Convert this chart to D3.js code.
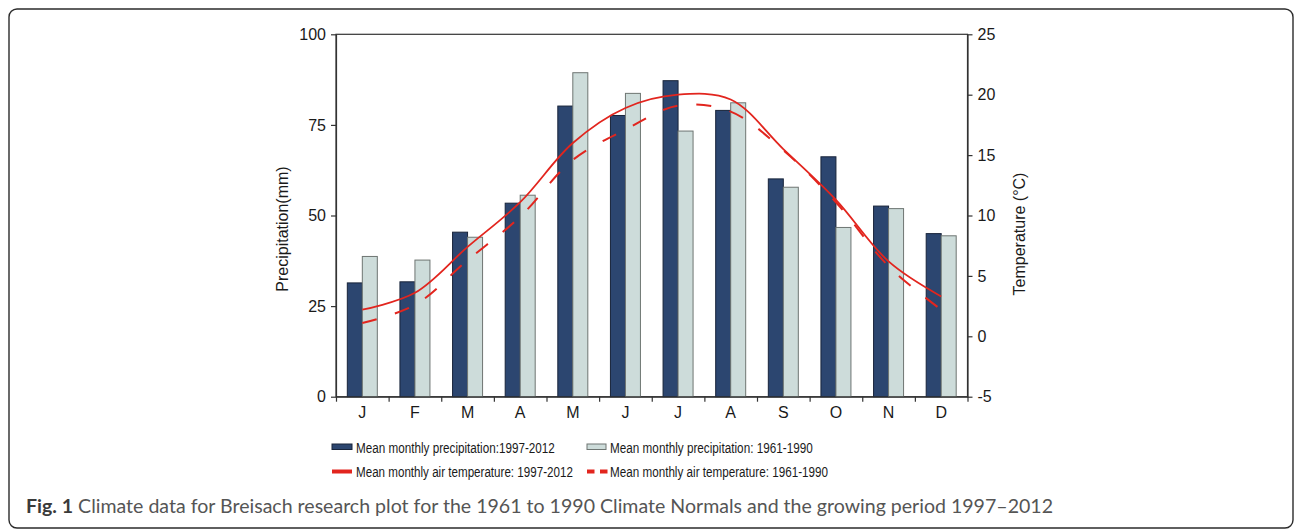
<!DOCTYPE html>
<html>
<head>
<meta charset="utf-8">
<script src="https://cdn.jsdelivr.net/npm/d3@7"></script>
<style>
  body { margin: 0; background: #fff; }
  svg { display: block; }
</style>
</head>
<body>
<svg id="chart" width="1295" height="530"></svg>
<script>
// months + values
const months = ["J", "F", "M", "A", "M", "J", "J", "A", "S", "O", "N", "D"];
const precip9712 = [31.4, 31.7, 45.4, 53.4, 80.2, 77.6, 87.2, 79.0, 60.1, 66.2, 52.6, 45.0];
const precip6190 = [38.7, 37.7, 44.0, 55.6, 89.4, 83.7, 73.3, 81.1, 57.8, 46.7, 51.9, 44.4];
const temp9712 = [2.2, 3.6, 7.4, 11.1, 16.0, 18.9, 20.0, 19.6, 15.5, 11.3, 6.2, 3.3];
const temp6190 = [1.1, 2.6, 6.3, 9.9, 14.6, 17.1, 19.1, 18.6, 15.4, 11.1, 5.8, 2.2];
const precipTicks = [0, 25, 50, 75, 100];
const tempTicks = [-5, 0, 5, 10, 15, 20, 25];

const svg = d3.select("#chart");
const m = { left: 336, right: 967.5, top: 34.3, bottom: 396.7 };

const x = d3.scaleBand()
  .domain(d3.range(12))
  .range([m.left, m.right]);
const xEdge = d3.scaleLinear().domain([0, 12]).range([m.left, m.right]);
const xSub = d3.scaleBand().domain(["a", "b"]).range([-15, 15]);
const yL = d3.scaleLinear().domain([0, 100]).range([m.bottom, m.top]);
const yR = d3.scaleLinear().domain([-5, 25]).range([m.bottom, m.top]);

// outer rounded frame
svg.append("rect")
  .attr("x", 9).attr("y", 9)
  .attr("width", 1284).attr("height", 519)
  .attr("rx", 8)
  .attr("fill", "none")
  .attr("stroke", "#2b2b2b")
  .attr("stroke-width", 1.4);

// plot box
svg.append("rect")
  .attr("x", m.left).attr("y", m.top)
  .attr("width", m.right - m.left).attr("height", m.bottom - m.top)
  .attr("fill", "none")
  .attr("stroke", "#333")
  .attr("stroke-width", 1.2);

// bars
const cx = i => x(i) + x.bandwidth() / 2;
svg.append("g").selectAll("rect")
  .data(precip9712)
  .join("rect")
  .attr("x", (d, i) => cx(i) + xSub("a"))
  .attr("width", xSub.bandwidth())
  .attr("y", d => yL(d))
  .attr("height", d => yL(0) - yL(d))
  .attr("fill", "#2c4670")
  .attr("stroke", "#18243a")
  .attr("stroke-width", 1);

svg.append("g").selectAll("rect")
  .data(precip6190)
  .join("rect")
  .attr("x", (d, i) => cx(i) + xSub("b"))
  .attr("width", xSub.bandwidth())
  .attr("y", d => yL(d))
  .attr("height", d => yL(0) - yL(d))
  .attr("fill", "#cddcda")
  .attr("stroke", "#6e7572")
  .attr("stroke-width", 1);

// temperature lines
const line = d3.line()
  .x((d, i) => cx(i))
  .y(d => yR(d))
  .curve(d3.curveCatmullRom.alpha(0.5));

svg.append("path")
  .datum(temp6190)
  .attr("d", line)
  .attr("fill", "none")
  .attr("stroke", "#e2251e")
  .attr("stroke-width", 2)
  .attr("stroke-dasharray", "15,19");

svg.append("path")
  .datum(temp9712)
  .attr("d", line)
  .attr("fill", "none")
  .attr("stroke", "#e2251e")
  .attr("stroke-width", 1.8);

// axes
const axisFont = "'Liberation Sans', Arial, sans-serif";

const gL = svg.append("g")
  .attr("transform", `translate(${m.left},0)`)
  .call(d3.axisLeft(yL).tickValues(precipTicks).tickSize(5).tickSizeOuter(0).tickPadding(5));
const gR = svg.append("g")
  .attr("transform", `translate(${m.right},0)`)
  .call(d3.axisRight(yR).tickValues(tempTicks).tickFormat(d => String(d))
    .tickSize(5).tickSizeOuter(0).tickPadding(5));
const gB = svg.append("g")
  .attr("transform", `translate(0,${m.bottom})`)
  .call(d3.axisBottom(xEdge).tickValues(d3.range(13)).tickFormat("").tickSize(5).tickSizeOuter(0));
const gBL = svg.append("g")
  .attr("transform", `translate(0,${m.bottom})`)
  .call(d3.axisBottom(x).tickFormat(i => months[i]).tickSize(0).tickPadding(10));
gBL.select(".domain").remove();

[gL, gR, gB, gBL].forEach(g => {
  g.selectAll("text").attr("font-family", axisFont).attr("font-size", 16).attr("fill", "#1a1a1a");
  g.selectAll("line").attr("stroke", "#333").attr("stroke-width", 1.2);
  g.select(".domain").attr("stroke", "#333").attr("stroke-width", 1.2);
});

// axis titles
svg.append("text")
  .attr("transform", "translate(288,229) rotate(-90)")
  .attr("text-anchor", "middle")
  .attr("font-family", axisFont)
  .attr("font-size", 16)
  .attr("fill", "#1a1a1a")
  .text("Precipitation(mm)");

svg.append("text")
  .attr("transform", "translate(1025,234) rotate(-90)")
  .attr("text-anchor", "middle")
  .attr("font-family", axisFont)
  .attr("font-size", 16)
  .attr("fill", "#1a1a1a")
  .text("Temperature (\u00B0C)");

// legend
const legend = svg.append("g")
  .attr("font-family", "'Liberation Sans', Arial, sans-serif")
  .attr("font-size", 15.5)
  .attr("fill", "#1a1a1a");

legend.append("rect").attr("x", 332).attr("y", 444).attr("width", 20).attr("height", 5.5)
  .attr("fill", "#2c4670").attr("stroke", "#18243a").attr("stroke-width", 1);
legend.append("rect").attr("x", 587).attr("y", 444).attr("width", 19).attr("height", 5.5)
  .attr("fill", "#cddcda").attr("stroke", "#6e7572").attr("stroke-width", 1);
legend.append("line").attr("x1", 332).attr("x2", 352).attr("y1", 471.5).attr("y2", 471.5)
  .attr("stroke", "#e2251e").attr("stroke-width", 4);
legend.append("line").attr("x1", 587).attr("x2", 608).attr("y1", 471.5).attr("y2", 471.5)
  .attr("stroke", "#e2251e").attr("stroke-width", 4).attr("stroke-dasharray", "7.5,5.5");

const legendItems = [
  { x: 356, y: 452.5, w: 199, t: "Mean monthly precipitation:1997-2012" },
  { x: 610, y: 452.5, w: 203, t: "Mean monthly precipitation: 1961-1990" },
  { x: 356, y: 477, w: 217, t: "Mean monthly air temperature: 1997-2012" },
  { x: 610, y: 477, w: 218, t: "Mean monthly air temperature: 1961-1990" }
];
// squeeze each label horizontally (the original uses a narrow face)
legend.selectAll("g.item")
  .data(legendItems)
  .join("g")
  .attr("class", "item")
  .each(function(d) {
    const g = d3.select(this);
    const t = g.append("text").text(d.t);
    const natural = t.node().getComputedTextLength();
    g.attr("transform", `translate(${d.x},${d.y}) scale(${d.w / natural},1)`);
  });

// caption
const cap = svg.append("text")
  .attr("x", 26)
  .attr("y", 513)
  .attr("font-family", "Lato, 'Open Sans', sans-serif")
  .attr("font-size", 18.5)
  .attr("fill", "#555")
  .attr("textLength", 1027)
  .attr("lengthAdjust", "spacingAndGlyphs");
cap.append("tspan").attr("font-weight", "bold").attr("fill", "#3a3a3a").text("Fig. 1");
cap.append("tspan").text(" Climate data for Breisach research plot for the 1961 to 1990 Climate Normals and the growing period 1997\u20132012");
</script>
</body>
</html>
